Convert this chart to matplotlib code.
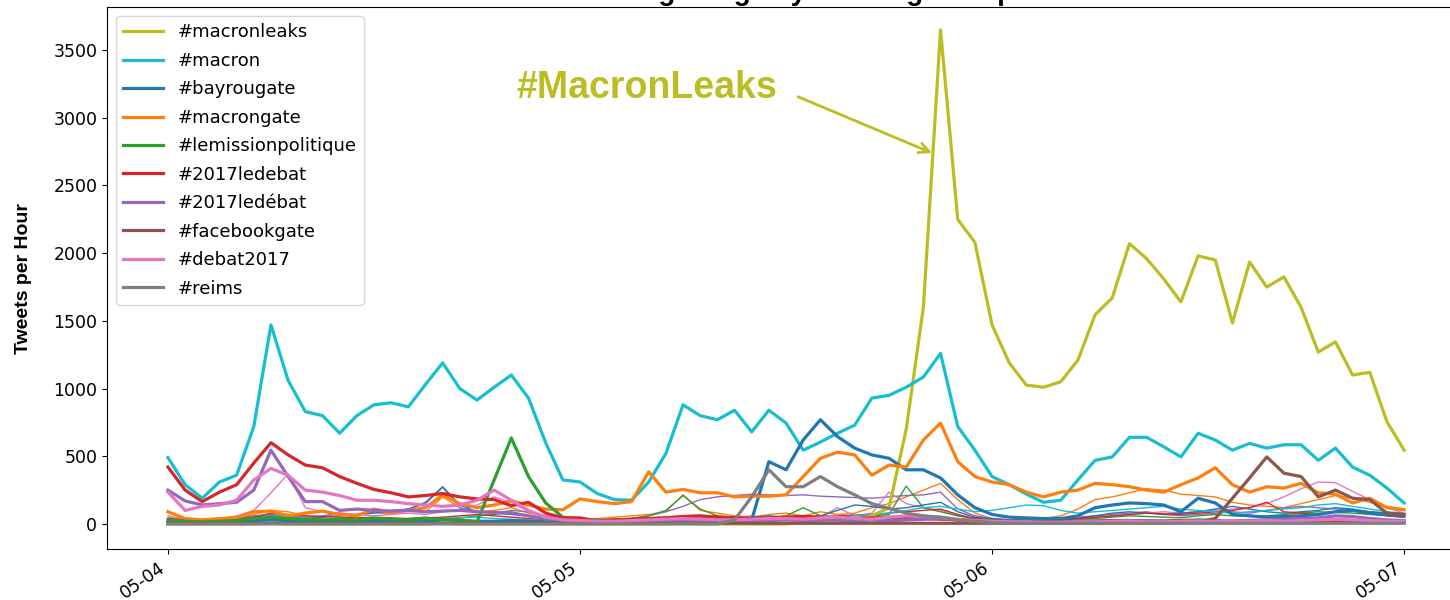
import matplotlib
matplotlib.use("Agg")
import matplotlib.pyplot as plt
import matplotlib.dates as mdates
import pandas as pd

# hourly counts, 2017-05-04 00:00 .. 2017-05-07 00:00 (73 points)
hours = pd.date_range("2017-05-04 00:00", periods=73, freq="h")

macronleaks = [0, 0, 0, 0, 0, 0, 5, 0, 0, 0, 0, 0, 0, 0, 0, 0, 5, 0, 0, 0,
               0, 0, 0, 0, 0, 0, 0, 0, 0, 0, 5, 0, 0, 0, 0, 0, 0, 10, 5, 10,
               20, 60, 120, 700, 1600, 3650, 2250, 2080, 1470, 1190, 1025, 1010, 1050, 1210, 1545, 1670, 2070, 1960, 1810, 1640,
               1980, 1950, 1485, 1935, 1750, 1825, 1600, 1270, 1345, 1100, 1120, 755, 545]
macron = [490, 290, 190, 310, 360, 720, 1470, 1060, 830, 800, 670, 800, 880, 895, 865, 1030, 1190, 1000, 915, 1010,
          1100, 930, 600, 325, 310, 225, 180, 175, 310, 520, 880, 800, 770, 840, 680, 840, 745, 545, 605, 670,
          730, 930, 950, 1010, 1085, 1260, 720, 545, 350, 290, 220, 160, 175, 325, 470, 495, 640, 640, 570, 495,
          670, 620, 545, 595, 560, 585, 585, 470, 560, 420, 360, 265, 155]
bayrougate = [20, 15, 10, 15, 20, 25, 30, 25, 20, 20, 25, 20, 20, 20, 25, 20, 30, 25, 20, 20,
              25, 20, 15, 10, 10, 5, 5, 5, 5, 5, 10, 10, 10, 15, 30, 460, 400, 620, 770, 645,
              560, 510, 485, 400, 400, 340, 215, 120, 70, 50, 45, 40, 40, 60, 120, 140, 155, 150, 140, 90,
              190, 155, 70, 60, 50, 55, 60, 70, 90, 100, 80, 70, 60]
macrongate = [90, 40, 30, 40, 45, 90, 95, 60, 80, 95, 70, 60, 110, 85, 100, 120, 215, 150, 120, 140,
              170, 140, 110, 105, 185, 165, 150, 165, 385, 235, 255, 230, 230, 200, 205, 205, 215, 350, 485, 530,
              510, 360, 435, 420, 620, 745, 460, 350, 310, 290, 235, 200, 235, 250, 300, 290, 275, 250, 235, 290,
              340, 415, 290, 235, 275, 265, 300, 230, 220, 155, 190, 120, 105]
lemissionpolitique = [30, 20, 15, 20, 25, 40, 50, 40, 35, 30, 35, 30, 40, 35, 30, 40, 35, 30, 15, 325,
                      635, 350, 155, 50, 35, 30, 25, 25, 30, 35, 40, 35, 30, 30, 25, 30, 35, 30, 30, 35,
                      30, 30, 25, 35, 40, 45, 30, 25, 20, 20, 20, 20, 15, 20, 20, 25, 25, 20, 20, 25,
                      30, 25, 20, 25, 20, 25, 20, 25, 20, 20, 15, 15, 15]
ledebat_2017 = [420, 250, 165, 235, 290, 450, 600, 510, 435, 415, 350, 300, 255, 230, 200, 210, 225, 200, 185, 180,
                135, 160, 80, 45, 45, 20, 30, 35, 40, 45, 55, 60, 50, 45, 40, 45, 50, 55, 50, 45,
                40, 45, 50, 45, 40, 35, 30, 25, 20, 20, 15, 15, 15, 20, 20, 25, 25, 20, 20, 25,
                20, 20, 20, 25, 20, 20, 25, 20, 20, 15, 15, 15, 15]
ledebat_accent_2017 = [250, 170, 140, 150, 160, 250, 545, 350, 165, 165, 100, 110, 100, 95, 100, 90, 95, 100, 90, 85,
                       80, 60, 40, 25, 20, 20, 15, 20, 20, 20, 25, 25, 30, 30, 25, 25, 30, 25, 30, 30,
                       25, 30, 25, 30, 35, 40, 30, 25, 20, 20, 15, 15, 15, 20, 20, 20, 25, 25, 20, 20,
                       25, 25, 20, 25, 30, 35, 40, 45, 60, 55, 40, 30, 25]
facebookgate = [5, 5, 5, 5, 5, 5, 5, 5, 5, 5, 5, 5, 5, 5, 5, 5, 5, 5, 5, 5,
                5, 5, 5, 5, 5, 5, 5, 5, 5, 5, 5, 5, 5, 5, 5, 5, 5, 5, 5, 5,
                5, 5, 5, 5, 5, 5, 5, 5, 5, 5, 5, 5, 5, 5, 5, 5, 5, 5, 5, 10,
                15, 40, 190, 340, 495, 375, 350, 200, 250, 190, 180, 80, 70]
debat2017 = [235, 100, 130, 140, 175, 325, 410, 360, 250, 235, 210, 175, 175, 165, 150, 140, 130, 140, 175, 250,
             175, 100, 50, 30, 25, 20, 20, 25, 30, 35, 40, 35, 30, 30, 35, 40, 40, 35, 45, 50,
             40, 35, 50, 60, 55, 50, 35, 25, 20, 15, 15, 10, 10, 15, 15, 20, 20, 15, 15, 20,
             20, 20, 25, 20, 25, 20, 25, 30, 35, 30, 25, 20, 20]
reims = [0, 0, 0, 0, 0, 0, 0, 0, 0, 0, 0, 0, 0, 0, 0, 0, 0, 0, 0, 0,
         0, 0, 0, 0, 0, 0, 0, 0, 0, 0, 0, 0, 0, 30, 200, 400, 275, 275, 350, 275,
         215, 150, 115, 80, 60, 50, 30, 20, 10, 5, 5, 5, 5, 5, 5, 5, 5, 5, 5, 5,
         5, 5, 5, 5, 5, 5, 5, 5, 5, 5, 5, 5, 5]

# smaller hashtags, drawn thin and left out of the legend
minor_1 = [60, 30, 20, 30, 40, 70, 100, 90, 60, 50, 80, 60, 90, 70, 110, 90, 200, 120, 90, 100,
           120, 80, 60, 40, 40, 40, 50, 60, 70, 90, 215, 100, 80, 60, 50, 70, 80, 60, 90, 70,
           80, 120, 150, 200, 250, 300, 180, 80, 40, 30, 30, 40, 60, 110, 180, 200, 230, 260, 250, 220,
           210, 200, 160, 140, 130, 120, 150, 180, 210, 190, 160, 130, 110]
minor_2 = [40, 30, 20, 30, 40, 60, 70, 60, 50, 60, 80, 70, 90, 100, 110, 150, 270, 120, 90, 80,
           100, 90, 60, 40, 30, 30, 30, 40, 60, 90, 130, 180, 200, 210, 220, 215, 210, 215, 205, 200,
           195, 190, 200, 210, 215, 235, 110, 60, 40, 30, 30, 35, 40, 50, 60, 70, 80, 90, 70, 60,
           70, 80, 90, 80, 100, 120, 130, 120, 110, 100, 90, 80, 70]
minor_3 = [50, 40, 30, 40, 60, 100, 230, 370, 120, 90, 80, 70, 60, 70, 80, 70, 90, 100, 140, 200,
           160, 90, 50, 30, 20, 20, 25, 30, 40, 50, 60, 50, 40, 50, 60, 40, 50, 60, 50, 120,
           60, 80, 235, 150, 120, 100, 60, 40, 30, 25, 25, 30, 30, 40, 50, 60, 70, 80, 90, 80,
           90, 100, 110, 120, 150, 200, 260, 310, 305, 240, 180, 120, 80]
minor_4 = [20, 15, 10, 15, 20, 30, 40, 30, 20, 25, 30, 40, 35, 30, 40, 50, 40, 45, 60, 70,
           90, 60, 40, 30, 25, 30, 35, 40, 60, 100, 210, 110, 60, 50, 40, 45, 60, 120, 60, 50,
           45, 60, 70, 280, 120, 90, 60, 40, 30, 25, 25, 30, 30, 35, 40, 50, 60, 55, 50, 45,
           60, 70, 60, 55, 60, 70, 80, 90, 85, 80, 70, 60, 50]
minor_5 = [30, 20, 20, 30, 30, 50, 60, 50, 40, 50, 60, 70, 80, 90, 110, 160, 275, 140, 90, 80,
           70, 60, 40, 30, 25, 25, 30, 30, 35, 40, 45, 40, 35, 40, 50, 60, 50, 45, 60, 100,
           140, 130, 110, 120, 140, 160, 90, 50, 40, 30, 30, 30, 35, 40, 60, 80, 90, 80, 70, 80,
           90, 110, 130, 110, 90, 80, 90, 100, 120, 110, 90, 80, 70]
minor_6 = [40, 30, 25, 30, 35, 50, 80, 70, 60, 55, 50, 45, 50, 45, 40, 45, 50, 60, 70, 60,
           50, 40, 30, 25, 25, 30, 35, 40, 45, 50, 55, 60, 55, 50, 45, 50, 55, 60, 55, 60,
           65, 70, 80, 90, 100, 110, 70, 40, 30, 25, 25, 30, 35, 40, 50, 60, 70, 80, 75, 70,
           80, 90, 100, 120, 160, 90, 80, 70, 90, 100, 80, 60, 50]
minor_7 = [30, 20, 15, 20, 25, 40, 60, 50, 40, 35, 30, 35, 40, 35, 30, 35, 40, 45, 50, 40,
           35, 30, 25, 20, 20, 25, 30, 35, 40, 35, 30, 35, 40, 35, 30, 35, 40, 45, 40, 50,
           60, 70, 80, 100, 120, 130, 110, 90, 100, 120, 140, 135, 100, 80, 90, 100, 110, 120, 130, 110,
           100, 90, 80, 90, 100, 110, 120, 140, 150, 130, 110, 90, 80]

labels = ["#macronleaks", "#macron", "#bayrougate", "#macrongate", "#lemissionpolitique",
          "#2017ledebat", "#2017ledébat", "#facebookgate", "#debat2017", "#reims"]
series = [macronleaks, macron, bayrougate, macrongate, lemissionpolitique,
          ledebat_2017, ledebat_accent_2017, facebookgate, debat2017, reims]
colors = ["tab:olive", "tab:cyan", "tab:blue", "tab:orange", "tab:green",
          "tab:red", "tab:purple", "tab:brown", "tab:pink", "tab:gray"]
minor = [minor_1, minor_2, minor_3, minor_4, minor_5, minor_6, minor_7]
minor_colors = ["tab:orange", "tab:purple", "tab:pink", "tab:green", "tab:blue", "tab:red", "tab:cyan"]

fig = plt.figure(figsize=(14.5, 6), dpi=100)
ax = fig.add_axes([0.0738, 0.085, 0.936, 0.903])

for vals, c in zip(minor, minor_colors):
    ax.plot(hours, vals, color=c, lw=1.0)
for vals, c, lab in zip(series, colors, labels):
    ax.plot(hours, vals, color=c, lw=2.3, label=lab)

ax.set_xlim(hours[0] - pd.Timedelta(hours=3.55), hours[0] + pd.Timedelta(hours=75.5))
ax.set_ylim(-185, 3817)
ax.set_yticks([0, 500, 1000, 1500, 2000, 2500, 3000, 3500])
ax.xaxis.set_major_locator(mdates.DayLocator())
ax.xaxis.set_major_formatter(mdates.DateFormatter("%m-%d"))
ax.tick_params(axis="y", labelsize=12.5)
ax.tick_params(axis="x", labelsize=12.5)
plt.setp(ax.get_xticklabels(), rotation=35, ha="right")

ax.set_ylabel("Tweets per Hour", family="Liberation Sans", fontweight="bold", fontsize=14)
ax.yaxis.set_label_coords(-0.055, 0.5)

ax.legend(loc="upper left", fontsize=13, handlelength=2.2, labelspacing=0.58)

ax.annotate("#MacronLeaks",
            xy=(hours[0] + pd.Timedelta(hours=44.5), 2740),
            xytext=(hours[0] + pd.Timedelta(hours=27.9), 3220),
            ha="center", va="center", color="#bcbd22",
            family="Liberation Sans", fontweight="bold", fontsize=27,
            arrowprops=dict(arrowstyle="->", color="#bcbd22", lw=2, mutation_scale=18,
                            shrinkA=14, shrinkB=0, relpos=(1.0, 0.5)))

fig.text(0.545, 1.0, "Hashtag Usage by Hashtag Group", ha="center", va="baseline",
         family="Liberation Sans", fontweight="bold", fontsize=20)

fig.savefig("out.png", dpi=100)
